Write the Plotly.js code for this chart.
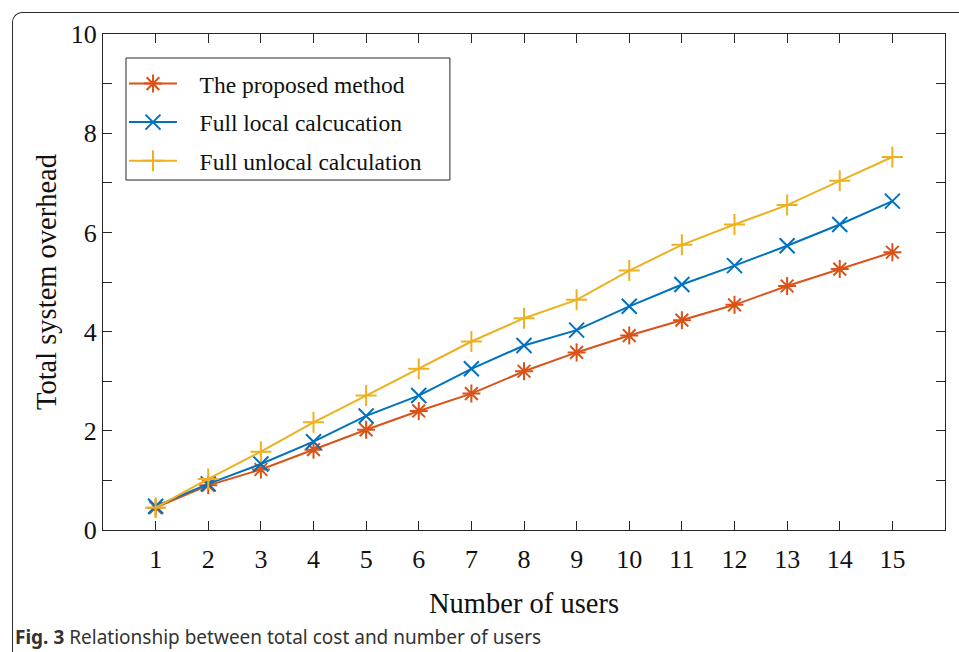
<!DOCTYPE html>
<html>
<head>
<meta charset="utf-8">
<script src="https://cdn.plot.ly/plotly-3.0.1.min.js"></script>
<style>
  html, body { margin: 0; padding: 0; background: #ffffff; }
  #wrap { position: relative; width: 959px; height: 652px; overflow: hidden; }
  #frame {
    position: absolute; left: 12px; top: 12px; width: 1000px; height: 700px;
    border-left: 1.6px solid #2b2b2b; border-top: 1.6px solid #2b2b2b;
    border-top-left-radius: 10px; box-sizing: border-box;
  }
  #chart { position: absolute; left: 0; top: 0; width: 959px; height: 652px; }
</style>
</head>
<body>
<div id="wrap">
  <div id="frame"></div>
  <div id="chart"></div>
</div>
<script>
// Number of users on the x axis
const users = [1, 2, 3, 4, 5, 6, 7, 8, 9, 10, 11, 12, 13, 14, 15];

// Total system overhead for each strategy
const proposedMethod   = [0.45, 0.90, 1.22, 1.62, 2.02, 2.40, 2.75, 3.20, 3.58, 3.92, 4.23, 4.54, 4.92, 5.26, 5.60];
const fullLocalCalc    = [0.48, 0.93, 1.33, 1.78, 2.30, 2.71, 3.25, 3.72, 4.03, 4.51, 4.95, 5.33, 5.73, 6.16, 6.63];
const fullUnlocalCalc  = [0.45, 1.03, 1.58, 2.17, 2.71, 3.25, 3.80, 4.27, 4.64, 5.23, 5.75, 6.16, 6.55, 7.04, 7.52];

const seriesNames = ['The proposed method', 'Full local calcucation', 'Full unlocal calculation'];

// y ticks every unit, labelled on even values only
const yTickVals = [0, 1, 2, 3, 4, 5, 6, 7, 8, 9, 10];
const yTickText = ['0', '', '2', '', '4', '', '6', '', '8', '', '10'];

const serif = 'Liberation Serif, Times New Roman, serif';
const axisColor = '#262626';
const pad = '\u00a0\u00a0\u00a0';   // gap between legend symbol and label

function series(y, name, color, symbol, group) {
  return {
    x: users, y: y, name: pad + name, type: 'scatter', mode: 'lines+markers',
    legendgroup: group,
    line: { color: color, width: 2 },
    marker: { symbol: symbol, size: 15, color: color, line: { color: color, width: 2 } }
  };
}

const data = [
  series(proposedMethod, seriesNames[0], '#D95319', 'asterisk-open', 'a'),
  series(fullLocalCalc, seriesNames[1], '#0072BD', 'x-thin-open', 'b'),
  series(fullUnlocalCalc, seriesNames[2], '#EDB120', 'cross-thin-open', 'c')
];

const layout = {
  width: 959, height: 652,
  margin: { l: 103, r: 14, t: 34, b: 122 },
  paper_bgcolor: 'rgba(0,0,0,0)',
  plot_bgcolor: '#ffffff',
  showlegend: true,
  font: { family: serif, color: axisColor },
  xaxis: {
    range: [0, 16], tickvals: users, ticktext: users.map(String),
    showline: true, mirror: 'ticks', linecolor: axisColor, linewidth: 1,
    ticks: 'inside', ticklen: 9, tickcolor: axisColor, tickwidth: 1,
    showgrid: false, zeroline: false, ticklabelstandoff: 6,
    tickfont: { family: serif, size: 26, color: '#111' },
    title: { text: 'Number of users', font: { family: serif, size: 28.5, color: '#111' }, standoff: 19 }
  },
  yaxis: {
    range: [0, 10], tickvals: yTickVals, ticktext: yTickText,
    showline: true, mirror: 'ticks', linecolor: axisColor, linewidth: 1,
    ticks: 'inside', ticklen: 9, tickcolor: axisColor, tickwidth: 1,
    showgrid: false, zeroline: false,
    tickfont: { family: serif, size: 26, color: '#111' },
    title: { text: 'Total system overhead', font: { family: serif, size: 28.5, color: '#111' }, standoff: 5 }
  },
  legend: {
    x: 0.0249, y: 0.944, xanchor: 'left', yanchor: 'top',
    bgcolor: 'rgba(0,0,0,0)', borderwidth: 0,
    font: { family: serif, size: 23.5, color: '#111' },
    itemwidth: 48, tracegroupgap: 5, traceorder: 'grouped'
  },
  shapes: [{
    // legend frame
    type: 'rect', xref: 'paper', yref: 'paper', layer: 'below',
    x0: 0.0273, x1: 0.412, y0: 0.7056, y1: 0.9516,
    line: { color: axisColor, width: 1 }, fillcolor: '#ffffff'
  }],
  annotations: [{
    xref: 'paper', yref: 'paper', x: -0.1065, y: -0.216,
    xanchor: 'left', yanchor: 'middle', showarrow: false,
    text: '<b>Fig. 3</b> Relationship between total cost and number of users',
    font: { family: 'Noto Sans, Open Sans, sans-serif', size: 19, color: '#333' }
  }]
};

Plotly.newPlot('chart', data, layout, { displayModeBar: false, staticPlot: true });
</script>
</body>
</html>
